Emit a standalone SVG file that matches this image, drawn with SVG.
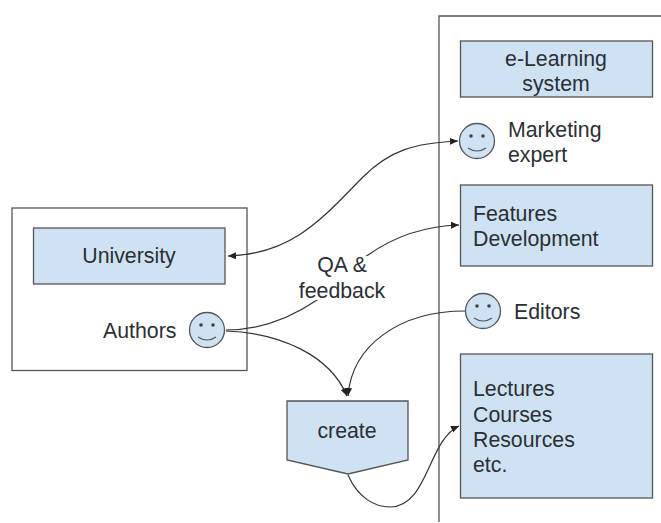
<svg xmlns="http://www.w3.org/2000/svg" width="661" height="523" viewBox="0 0 661 523">
<style>
.frame{fill:#fff;stroke:#555;stroke-width:1.3}
.box{fill:#cfe2f3;stroke:#555;stroke-width:1.3}
.c{fill:none;stroke:#333;stroke-width:1.2}
.eye{fill:#444}
.smile{fill:none;stroke:#555;stroke-width:1.2}
text{font-family:"Liberation Sans",Arial,sans-serif;font-size:21.3px;fill:#2a2f36}
.m{text-anchor:middle}
</style>
<defs>
<marker id="a" markerUnits="userSpaceOnUse" markerWidth="10" markerHeight="8" refX="8" refY="4" orient="auto-start-reverse"><path d="M0 0.500L8 4L0 7.500Z" fill="#222"/></marker>
<g id="smiley">
<circle r="17.500" fill="#cfe2f3" stroke="#555" stroke-width="1.300"/>
<circle cx="-6" cy="-5" r="1.800" class="eye"/><circle cx="6" cy="-5" r="1.800" class="eye"/>
<path d="M-9 7Q0 13 9 7" class="smile"/>
</g>
</defs>
<rect width="661" height="523" fill="#fff"/>
<g id="university-frame"><rect class="frame" x="12" y="208" width="235" height="162.500"/></g>
<g id="elearning-frame"><path d="M439 522V16H661" fill="none" stroke="#555" stroke-width="1.300"/></g>
<g id="connectors">
<path class="c" marker-start="url(#a)" marker-end="url(#a)" d="M228 256C295 254 325 215 363 177C390 150 415 143 458 141"/>
<path class="c" marker-end="url(#a)" d="M226 330C265 330 295 315 317 300C340 282 350 266 368 255C395 236 425 226 459 225"/>
<path class="c" marker-end="url(#a)" d="M226 331C280 333 330 355 347 396"/>
<path class="c" marker-end="url(#a)" d="M465 311C400 311 352 345 348 396"/>
<path class="c" marker-end="url(#a)" d="M348 475C358 498 375 507 390 507C428 507 428 440 459 426"/>
</g>
<g id="qa-label"><rect x="284" y="256" width="119" height="44" fill="#fff"/><text class="m" x="342" y="272">QA &amp;</text><text class="m" x="342" y="298">feedback</text></g>
<g id="university"><rect class="box" x="33.500" y="228" width="191.500" height="56"/><text class="m" x="129" y="263">University</text></g>
<g id="authors"><use href="#smiley" x="207" y="330"/><text x="103" y="338">Authors</text></g>
<g id="create"><path class="box" d="M287 401H408V460L348 474L287 460Z"/><text class="m" x="347" y="438">create</text></g>
<g id="elearning"><rect class="box" x="460.500" y="41" width="192" height="56"/><text class="m" x="556" y="66">e-Learning</text><text class="m" x="556" y="91">system</text></g>
<g id="marketing"><use href="#smiley" x="477" y="141"/><text x="508" y="137">Marketing</text><text x="508" y="162">expert</text></g>
<g id="features"><rect class="box" x="460.500" y="185" width="192" height="81"/><text x="473" y="221">Features</text><text x="473" y="246">Development</text></g>
<g id="editors"><use href="#smiley" x="483" y="311"/><text x="514" y="319">Editors</text></g>
<g id="lectures"><rect class="box" x="460.500" y="354" width="192" height="144"/><text x="473" y="396">Lectures</text><text x="473" y="422">Courses</text><text x="473" y="447">Resources</text><text x="473" y="472">etc.</text></g>
</svg>
